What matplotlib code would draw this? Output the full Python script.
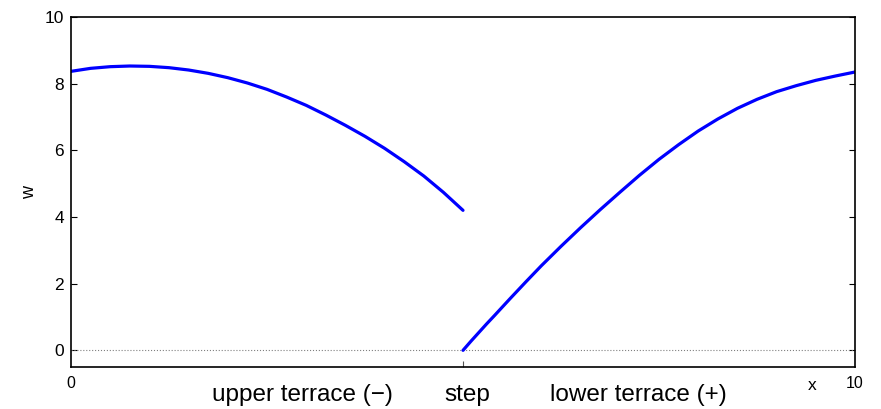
import matplotlib as mpl
mpl.use('Agg')
import matplotlib.pyplot as plt

# values
upper_x = [0.0, 0.25, 0.5, 0.75, 1.0, 1.25, 1.5, 1.75, 2.0, 2.25, 2.5, 2.75,
           3.0, 3.25, 3.5, 3.75, 4.0, 4.25, 4.5, 4.75, 5.0]
upper_w = [8.37, 8.46, 8.51, 8.53, 8.52, 8.48, 8.41, 8.31, 8.18, 8.02, 7.83, 7.60,
           7.35, 7.06, 6.75, 6.42, 6.06, 5.66, 5.23, 4.74, 4.20]
lower_x = [5.0, 5.1, 5.2, 5.3, 5.4, 5.6, 5.8, 6.0, 6.25, 6.5, 6.75, 7.0, 7.25,
           7.5, 7.75, 8.0, 8.25, 8.5, 8.75, 9.0, 9.25, 9.5, 9.75, 10.0]
lower_w = [0.0, 0.27, 0.53, 0.79, 1.04, 1.55, 2.05, 2.54, 3.12, 3.68, 4.22, 4.74, 5.25,
           5.73, 6.17, 6.58, 6.94, 7.26, 7.53, 7.76, 7.94, 8.10, 8.23, 8.35]
y_ticks = [0, 2, 4, 6, 8, 10]
region_labels = ["upper terrace (\u2212)", "step", "lower terrace (+)"]
region_pos = [2.95, 5.05, 7.24]

plt.rcParams['font.family'] = ['Liberation Sans', 'DejaVu Sans']

fig = plt.figure(figsize=(8.81, 4.09), dpi=100)
ax = fig.add_axes([0.0806, 0.1027, 0.8899, 0.8557])

ax.plot([0, 10], [0, 0], linestyle=':', color='#808080', linewidth=0.8)
ax.plot(upper_x, upper_w, color='#0000ff', linewidth=2.3, solid_capstyle='round')
ax.plot(lower_x, lower_w, color='#0000ff', linewidth=2.3, solid_capstyle='round')

ax.set_xlim(0, 10)
ax.set_ylim(-0.5, 10)
ax.set_yticks(y_ticks)
ax.set_xticks([5])
ax.set_xticklabels([''])
ax.tick_params(axis='y', direction='in', right=True, length=4, labelsize=12.5, pad=5)
ax.tick_params(axis='x', direction='in', length=4, color='#555555')
for s in ax.spines.values():
    s.set_linewidth(1.2)
ax.set_ylabel('w', fontsize=13, labelpad=5)

trans = ax.get_xaxis_transform()
ax.text(0, -0.046, '0', transform=trans, ha='center', va='center', fontsize=11.5)
ax.text(10, -0.046, '10', transform=trans, ha='center', va='center', fontsize=11.5)
ax.text(9.45, -0.052, 'x', transform=trans, ha='center', va='center', fontsize=12.5)
for lab, xp in zip(region_labels, region_pos):
    ax.text(xp, -0.08, lab, transform=trans, ha='center', va='center', fontsize=17.5)

fig.savefig('out.png', dpi=100)
